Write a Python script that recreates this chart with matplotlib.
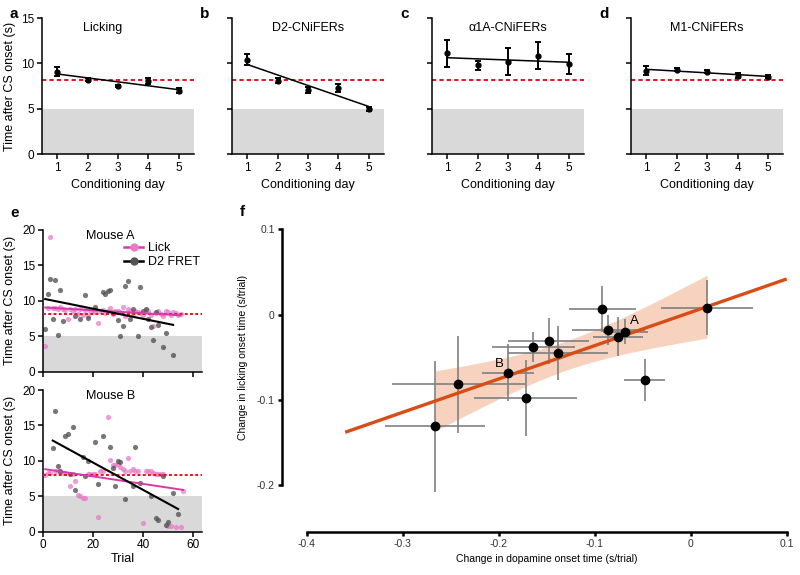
import numpy as np
from matplotlib import pyplot as plt
from matplotlib.lines import Line2D

plt.rcParams['font.family'] = ['Liberation Sans', 'DejaVu Sans']

# panels a-d: onset time per conditioning day
days = [1, 2, 3, 4, 5]
lick_mean = [9.1, 8.2, 7.5, 8.05, 7.0]
lick_err = [0.5, 0.15, 0.15, 0.35, 0.3]
d2_mean = [10.4, 8.1, 7.05, 7.3, 5.0]
d2_err = [0.6, 0.3, 0.3, 0.4, 0.25]
a1a_mean = [11.1, 9.8, 10.2, 10.85, 9.95]
a1a_err = [1.5, 0.5, 1.45, 1.5, 1.1]
m1_mean = [9.2, 9.3, 9.1, 8.65, 8.55]
m1_err = [0.5, 0.15, 0.15, 0.3, 0.15]
day_baseline = 8.2

# panel e: single trials, mouse A
a_fret_trial = [1, 2, 3, 4, 5, 6, 7, 8, 13, 15, 17, 18, 21, 24, 25, 26, 27, 28, 30,
                31, 32, 33, 34, 35, 36, 38, 39, 40, 41, 42, 43, 44, 45, 46, 48, 49, 52]
a_fret_time = [6.0, 10.9, 13.1, 7.4, 13.0, 5.2, 11.5, 7.2, 7.9, 7.5, 10.8, 7.6, 9.2,
               11.3, 11.0, 11.4, 11.6, 8.3, 7.3, 5.0, 6.4, 12.1, 12.8, 7.5, 8.9, 5.0,
               12.0, 8.6, 8.8, 7.5, 6.3, 4.5, 8.4, 6.6, 3.5, 5.4, 2.4]
a_lick_trial = list(range(1, 56))
a_lick_time = [3.6, 9.0, 19.0, 9.0, 9.0, 8.8, 9.1, 8.9, 8.7, 7.5, 8.8, 8.6, 8.8, 8.2,
               8.8, 8.0, 8.7, 7.8, 8.6, 8.7, 8.4, 6.9, 8.6, 8.7, 8.3, 8.5, 9.0, 8.2,
               8.6, 8.5, 8.4, 9.2, 7.8, 8.8, 8.5, 8.2, 8.6, 8.4, 8.3, 8.0, 8.7, 8.6,
               8.0, 6.5, 8.3, 8.6, 8.2, 7.8, 8.5, 8.4, 8.0, 8.4, 8.3, 8.0, 8.1]
a_baseline = 8.1

# panel e: single trials, mouse B
b_fret_trial = [4, 5, 6, 7, 9, 10, 11, 12, 13, 16, 17, 18, 21, 22, 24, 27, 28, 29, 30,
                31, 33, 36, 37, 39, 43, 45, 46, 48, 49, 50, 52, 54]
b_fret_time = [11.8, 17.0, 9.3, 8.6, 13.5, 13.8, 8.1, 14.8, 5.9, 10.6, 7.8, 10.0, 12.6,
               6.7, 13.5, 11.9, 9.0, 6.5, 10.0, 9.9, 4.6, 6.5, 11.9, 6.9, 5.0, 1.9, 1.7,
               7.8, 1.0, 1.4, 5.4, 2.5]
b_lick_trial = [1, 2, 3, 5, 6, 7, 8, 9, 11, 12, 13, 14, 15, 16, 17, 18, 19, 20, 21, 22,
                23, 24, 26, 27, 28, 29, 30, 31, 32, 33, 34, 35, 36, 37, 38, 40, 41, 42,
                43, 44, 45, 46, 47, 48, 50, 51, 53, 55, 56]
b_lick_time = [8.0, 8.3, 8.3, 8.6, 8.5, 8.4, 8.3, 8.3, 6.4, 8.2, 7.1, 5.2, 5.0, 4.8,
               4.7, 8.2, 8.2, 8.1, 8.2, 2.1, 8.5, 8.6, 16.2, 10.1, 9.4, 9.4, 9.6, 9.2,
               8.8, 8.5, 10.4, 8.5, 8.8, 8.6, 8.6, 1.2, 8.5, 8.5, 8.5, 8.3, 8.2, 8.2,
               8.1, 8.2, 0.8, 0.8, 0.7, 0.6, 5.7]
b_baseline = 8.0

# panel f: per-mouse slopes (s/trial)
f_dopa = [-0.266, -0.242, -0.190, -0.172, -0.164, -0.148, -0.138, -0.092, -0.086,
          -0.076, -0.068, -0.048, 0.017]
f_dopa_err = [0.052, 0.069, 0.027, 0.054, 0.043, 0.042, 0.052, 0.035, 0.038,
              0.026, 0.023, 0.021, 0.048]
f_lick = [-0.131, -0.082, -0.068, -0.098, -0.038, -0.031, -0.045, 0.006, -0.018,
          -0.026, -0.020, -0.077, 0.008]
f_lick_err = [0.077, 0.057, 0.033, 0.045, 0.018, 0.027, 0.032, 0.027, 0.018,
              0.023, 0.015, 0.025, 0.032]
f_fit_range = [-0.36, 0.1]
t_crit = 2.201  # t(0.975, df=11)

PINK_DOT = '#e67cc8'
PINK_LINE = '#d93aa9'
ORANGE = '#d84d15'

fig = plt.figure(figsize=(8, 5.75), dpi=100)


def styleAxis(ax):
    for s in ['top', 'right']:
        ax.spines[s].set_visible(False)
    for s in ['left', 'bottom']:
        ax.spines[s].set_linewidth(1.1)
    ax.tick_params(direction='out', length=3.5, width=1.1, labelsize=8.5, pad=2)


def dayPanel(rect, mean, err, title, title_x, letter, show_ylabel):
    ax = fig.add_axes(rect)
    ax.axhspan(0, 5, color='#d9d9d9', lw=0, zorder=0)
    ax.axhline(day_baseline, color='#e8101e', ls=(0, (2.2, 1.6)), lw=1.4, zorder=1)
    ax.errorbar(days, mean, yerr=err, fmt='o', color='black', ms=3.5, capsize=2.5,
                elinewidth=1.4, capthick=1.4, zorder=3)
    k, b = np.polyfit(days, mean, 1)
    xx = np.array([days[0], days[-1]])
    ax.plot(xx, k * xx + b, color='black', lw=1.1, zorder=2)
    ax.set_xlim(0.5, 5.5)
    ax.set_ylim(0, 15)
    ax.set_xticks(days)
    ax.set_yticks([0, 5, 10, 15])
    if not show_ylabel:
        ax.set_yticklabels([])
    else:
        ax.set_ylabel('Time after CS onset (s)', fontsize=9)
    ax.set_xlabel('Conditioning day', fontsize=9, labelpad=4)
    ax.text(title_x, 13.9, title, ha='center', va='center', fontsize=9)
    styleAxis(ax)
    fig.text(rect[0] - 0.04, 0.975, letter, fontsize=11, fontweight='bold',
             va='center')
    return ax


dayPanel([0.0525, 0.732, 0.19, 0.2365], lick_mean, lick_err, 'Licking', 2.5, 'a', True)
dayPanel([0.29, 0.732, 0.19, 0.2365], d2_mean, d2_err, 'D2-CNiFERs', 3, 'b', False)
dayPanel([0.54, 0.732, 0.19, 0.2365], a1a_mean, a1a_err, '\u03b11A-CNiFERs', 3, 'c', False)
dayPanel([0.789, 0.732, 0.19, 0.2365], m1_mean, m1_err, 'M1-CNiFERs', 3, 'd', False)


def trialPanel(rect, fret_t, fret_y, lick_t, lick_y, base, title, bottom):
    ax = fig.add_axes(rect)
    ax.axhspan(0, 5, color='#d9d9d9', lw=0, zorder=0)
    ax.scatter(lick_t, lick_y, s=14, color=PINK_DOT, alpha=0.75, lw=0, zorder=2)
    ax.scatter(fret_t, fret_y, s=14, color='#555555', alpha=0.8, lw=0, zorder=2)
    ax.axhline(base, color='#e8101e', ls=(0, (1.5, 1.2)), lw=1.4, zorder=3)
    for t, y, c, lw in [(lick_t, lick_y, PINK_LINE, 1.4), (fret_t, fret_y, 'black', 1.5)]:
        k, b = np.polyfit(t, y, 1)
        xx = np.array([min(t), max(t)])
        ax.plot(xx, k * xx + b, color=c, lw=lw, zorder=4)
    ax.set_xlim(0, 63.5)
    ax.set_ylim(0, 20)
    ax.set_xticks([0, 20, 40, 60])
    ax.set_yticks([0, 5, 10, 15, 20])
    ax.set_ylabel('Time after CS onset (s)', fontsize=9)
    if bottom:
        ax.set_xlabel('Trial', fontsize=9, labelpad=1)
    else:
        ax.set_xticklabels([])
    ax.text(27, 19.2, title, ha='center', va='center', fontsize=9)
    styleAxis(ax)
    return ax


axA = trialPanel([0.0534, 0.3536, 0.199, 0.2464], a_fret_trial, a_fret_time,
                 a_lick_trial, a_lick_time, a_baseline, 'Mouse A', False)
trialPanel([0.0534, 0.0753, 0.199, 0.2464], b_fret_trial, b_fret_time,
           b_lick_trial, b_lick_time, b_baseline, 'Mouse B', True)
handles = [Line2D([], [], color=PINK_LINE, lw=1.8, marker='o', ms=5,
                  mfc=PINK_DOT, mec=PINK_DOT),
           Line2D([], [], color='black', lw=1.8, marker='o', ms=5,
                  mfc='#555555', mec='#555555')]
axA.legend(handles, ['Lick', 'D2 FRET'], loc='upper right', bbox_to_anchor=(1.02, 0.95),
           frameon=False, fontsize=9, handlelength=1.5, handletextpad=0.4,
           labelspacing=0.15, borderaxespad=0)
fig.text(0.0125, 0.63, 'e', fontsize=11, fontweight='bold', va='center')

# panel f
axf = fig.add_axes([0.3834, 0.1565, 0.6, 0.4447])
x = np.array(f_dopa)
y = np.array(f_lick)
k, b = np.polyfit(x, y, 1)
n = len(x)
resid = y - (k * x + b)
s = np.sqrt(np.sum(resid ** 2) / (n - 2))
sxx = np.sum((x - x.mean()) ** 2)
xg = np.linspace(x.min(), x.max(), 100)
half = t_crit * s * np.sqrt(1.0 / n + (xg - x.mean()) ** 2 / sxx)
axf.fill_between(xg, k * xg + b - half, k * xg + b + half, color='#f7d2bf', lw=0,
                 zorder=1)
xl = np.array(f_fit_range)
axf.plot(xl, k * xl + b, color=ORANGE, lw=2.4, zorder=3, solid_capstyle='butt')
axf.errorbar(x, y, xerr=f_dopa_err, yerr=f_lick_err, fmt='none', ecolor='#808080',
             elinewidth=1.2, zorder=2, clip_on=False)
axf.plot(x, y, 'o', color='black', ms=6, zorder=4, clip_on=False)
axf.text(-0.0585, -0.007, 'A', fontsize=9.5, ha='center', va='center')
axf.text(-0.199, -0.058, 'B', fontsize=9.5, ha='center', va='center')
axf.set_xlim(-0.4, 0.1)
axf.set_ylim(-0.2, 0.1)
axf.set_xticks([-0.4, -0.3, -0.2, -0.1, 0, 0.1])
axf.set_xticklabels(['-0.4', '-0.3', '-0.2', '-0.1', '0', '0.1'])
axf.set_yticks([-0.2, -0.1, 0, 0.1])
axf.set_yticklabels(['-0.2', '-0.1', '0', '0.1'])
for sp in ['top', 'right']:
    axf.spines[sp].set_visible(False)
axf.spines['left'].set_position(('outward', 18))
axf.spines['bottom'].set_position(('outward', 33.6))
for sp in ['left', 'bottom']:
    axf.spines[sp].set_linewidth(1.8)
axf.tick_params(direction='out', length=3, width=1.8, labelsize=7.5, pad=2,
                labelcolor='#333333')
axf.set_xlabel('Change in dopamine onset time (s/trial)', fontsize=7.5, labelpad=4)
axf.set_ylabel('Change in licking onset time (s/trial)', fontsize=7.5, labelpad=6)
fig.text(0.3, 0.632, 'f', fontsize=11, fontweight='bold', va='center')

plt.savefig('out.png', dpi=100)
